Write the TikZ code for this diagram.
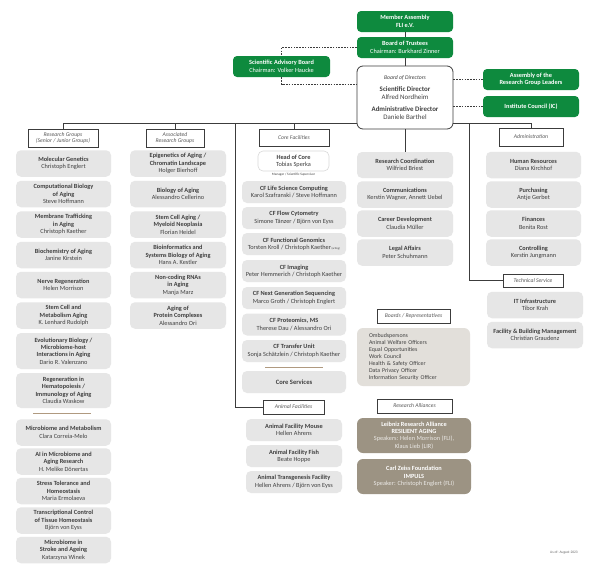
\documentclass[tikz,border=0pt]{standalone}
\usepackage{fontspec}
\setmainfont{Carlito}
\usetikzlibrary{positioning}

\definecolor{fligreen}{HTML}{0E8A3E}
\definecolor{boxgray}{HTML}{E6E6E6}
\definecolor{linegray}{HTML}{3C3C3C}
\definecolor{brdfill}{HTML}{E2DFDA}
\definecolor{allfill}{HTML}{9C9383}
\definecolor{sepbrown}{HTML}{B09A80}

\tikzset{
  base/.style={inner sep=1pt, align=center, font=\fontsize{6.3}{7.4}\selectfont, text=black!75},
  grp/.style={base, fill=boxgray, rounded corners=5pt},
  grn/.style={base, fill=fligreen, text=white, rounded corners=4pt, minimum width=96pt, minimum height=21pt},
  hdr/.style={base, draw=linegray, line width=0.8pt, fill=white, font=\fontsize{5.7}{6.8}\selectfont\itshape, text=black!65},
  rgbox/.style={grp, minimum width=95pt, minimum height=26.5pt},
  cfbox/.style={grp, minimum width=104pt, minimum height=22pt},
  ln/.style={draw=linegray, line width=0.7pt},
  dsh/.style={draw=linegray, line width=0.7pt, dash pattern=on 1.6pt off 1.2pt},
  sepline/.style={draw=sepbrown, line width=0.8pt},
  ally/.style={base, fill=allfill, text=white, rounded corners=6pt, minimum width=114pt, minimum height=35pt}
}

\begin{document}
\begin{tikzpicture}[x=1pt,y=-1pt]
\useasboundingbox[fill=white] (0,0) rectangle (600,570);

% top of the institute
\node[grn] (ma) at (405,21.5) {\textbf{Member Assembly}\\\textbf{FLI e.V.}};
\node[grn] (bot) at (405,47.5) {\textbf{Board of Trustees}\\ Chairman: Burkhard Zinner};
\node[grn, minimum width=97pt] (sab) at (281.5,66.5) {\textbf{Scientific Advisory Board}\\ Chairman: Volker Haucke};
\node[base, draw=linegray, line width=0.8pt, fill=white, rounded corners=6pt, minimum width=96pt, minimum height=63pt,
      font=\fontsize{6.9}{8.4}\selectfont] (bod) at (405,97.5)
  {{\fontsize{5.7}{6.5}\selectfont\itshape Board of Directors}\\[3.5pt]
   \textbf{Scientific Director}\\ Alfred Nordheim\\[3.5pt]
   \textbf{Administrative Director}\\ Daniele Barthel};
\node[grn] (argl) at (531,79.5) {\textbf{Assembly of the}\\\textbf{Research Group Leaders}};
\node[grn] (ic) at (531,106.5) {\textbf{Institute Council (IC)}};

\draw[ln] (ma) -- (bot);
\draw[ln] (bot) -- (bod);
\draw[dsh] (bot.west) -| (sab.north);
\draw[dsh] (sab.south) |- (bod.west |- 0,84);
\draw[dsh] (bod.east |- argl.west) -- (argl.west);
\draw[dsh] (bod.east |- ic.west) -- (ic.west);

% headers
\node[hdr, minimum width=70pt, minimum height=18pt] (rghd) at (63,138) {Research Groups\\(Senior / Junior Groups)};
\node[hdr, minimum width=58pt, minimum height=18pt] (arghd) at (175,138) {Associated\\Research Groups};
\node[hdr, minimum width=70pt, minimum height=17pt] (cfhd) at (294,137.5) {Core Facilities};
\node[hdr, minimum width=64pt, minimum height=18pt] (admhd) at (531,137) {Administration};
\node[hdr, minimum width=61pt, minimum height=14pt] (afhd) at (293.5,407) {Animal Facilities};
\node[hdr, minimum width=60pt, minimum height=13pt] (tshd) at (533,280.5) {Technical Service};
\node[hdr, minimum width=73pt, minimum height=14pt] (brdhd) at (413.5,316) {Boards / Representatives};
\node[hdr, minimum width=75pt, minimum height=14pt] (rahd) at (414.5,406) {Research Alliances};

\coordinate (busl) at (235,123);
\coordinate (busr) at (469,123);
\draw[ln] (rghd.north) |- (bod.west |- busl);
\draw[ln] (bod.east |- busr) -| (admhd.north);
\draw[ln] (arghd.north) -- (arghd.north |- busl);
\draw[ln] (cfhd.north) -- (cfhd.north |- busl);
\draw[ln] (busl) |- (afhd.west);
\draw[ln] (busr) |- (tshd.west);

% research groups
\node[rgbox] (mg) at (63.5,163.5) {\textbf{Molecular Genetics}\\ Christoph Englert};
\node[rgbox] (cb) at (63.5,194) {\textbf{Computational Biology}\\\textbf{of Aging}\\ Steve Hoffmann};
\node[rgbox] (mt) at (63.5,224.5) {\textbf{Membrane Trafficking}\\\textbf{in Aging}\\ Christoph Kaether};
\node[rgbox] (ba) at (63.5,255) {\textbf{Biochemistry of Aging}\\ Janine Kirstein};
\node[rgbox] (nr) at (63.5,285) {\textbf{Nerve Regeneration}\\ Helen Morrison};
\node[rgbox] (sc) at (63.5,315.5) {\textbf{Stem Cell and}\\\textbf{Metabolism Aging}\\ K. Lenhard Rudolph};
\node[rgbox, minimum height=36pt] (eb) at (63.5,351) {\textbf{Evolutionary Biology /}\\\textbf{Microbiome-host}\\\textbf{Interactions in Aging}\\ Dario R. Valenzano};
\node[rgbox, minimum height=35pt] (rh) at (63.5,390.5) {\textbf{Regeneration in}\\\textbf{Hematopoiesis /}\\\textbf{Immunology of Aging}\\ Claudia Waskow};
\draw[sepline] (33,413) -- (91,413);
\node[rgbox] (mm) at (63.5,432.5) {\textbf{Microbiome and Metabolism}\\ Clara Correia-Melo};
\node[rgbox] (ai) at (63.5,461.5) {\textbf{AI in Microbiome and}\\\textbf{Aging Research}\\ H. Melike Dönertas};
\node[rgbox] (stt) at (63.5,491) {\textbf{Stress Tolerance and}\\\textbf{Homeostasis}\\ Maria Ermolaeva};
\node[rgbox] (tc) at (63.5,520.5) {\textbf{Transcriptional Control}\\\textbf{of Tissue Homeostasis}\\ Björn von Eyss};
\node[rgbox] (ms) at (63.5,550) {\textbf{Microbiome in}\\\textbf{Stroke and Ageing}\\ Katarzyna Winek};

% associated research groups
\node[rgbox, minimum width=96pt] (ep) at (178,163.5) {\textbf{Epigenetics of Aging /}\\\textbf{Chromatin Landscape}\\ Holger Bierhoff};
\node[rgbox, minimum width=96pt] (bi) at (178,194) {\textbf{Biology of Aging}\\ Alessandro Cellerino};
\node[rgbox, minimum width=96pt] (sca) at (178,224.5) {\textbf{Stem Cell Aging /}\\\textbf{Myeloid Neoplasia}\\ Florian Heidel};
\node[rgbox, minimum width=96pt] (bs) at (178,255) {\textbf{Bioinformatics and}\\\textbf{Systems Biology of Aging}\\ Hans A. Kestler};
\node[rgbox, minimum width=96pt] (nc) at (178,285) {\textbf{Non-coding RNAs}\\\textbf{in Aging}\\ Manja Marz};
\node[rgbox, minimum width=96pt] (pc) at (178,315.5) {\textbf{Aging of}\\\textbf{Protein Complexes}\\ Alessandro Ori};

% core facilities
\node[base, fill=white, draw=black!15, line width=0.6pt, rounded corners=5pt, minimum width=71pt, minimum height=20pt] (hoc) at (293.5,161) {\textbf{Head of Core}\\ Tobias Sperka};
\node[base, font=\fontsize{3.4}{4}\selectfont, below=0.3pt of hoc] (hocsub) {Manager / Scientific Supervisor};
\node[cfbox] (lsc) at (294,192) {\textbf{CF Life Science Computing}\\ Karol Szafranski / Steve Hoffmann};
\node[cfbox] (fc) at (294,218) {\textbf{CF Flow Cytometry}\\ Simone Tänzer / Björn von Eyss};
\node[cfbox] (fg) at (294,244) {\textbf{CF Functional Genomics}\\ Torsten Kroll / Christoph Kaether{\fontsize{2.8}{3}\selectfont\,(acting)}};
\node[cfbox] (im) at (294,271) {\textbf{CF Imaging}\\ Peter Hemmerich / Christoph Kaether};
\node[cfbox] (ngs) at (294,298) {\textbf{CF Next Generation Sequencing}\\ Marco Groth / Christoph Englert};
\node[cfbox] (pr) at (294,324.5) {\textbf{CF Proteomics, MS}\\ Therese Dau / Alessandro Ori};
\node[cfbox] (tu) at (294,351) {\textbf{CF Transfer Unit}\\ Sonja Schätzlein / Christoph Kaether};
\draw[sepline] (265,367) -- (323,367);
\node[cfbox, font=\fontsize{6.6}{7.4}\selectfont] (cs) at (294,382) {\textbf{Core Services}};

% animal facilities
\node[cfbox, minimum width=96pt] (afm) at (294,430) {\textbf{Animal Facility Mouse}\\ Hellen Ahrens};
\node[cfbox, minimum width=96pt] (aff) at (294,456) {\textbf{Animal Facility Fish}\\ Beate Hoppe};
\node[cfbox, minimum width=96pt] (atf) at (294,482) {\textbf{Animal Transgenesis Facility}\\ Hellen Ahrens / Björn von Eyss};

% staff units
\node[rgbox, minimum width=96pt, minimum height=26pt] (rc) at (405,165) {\textbf{Research Coordination}\\ Wilfried Briest};
\node[rgbox, minimum width=96pt] (com) at (405,194.5) {\textbf{Communications}\\ Kerstin Wagner, Annett Uebel};
\node[rgbox, minimum width=96pt] (cd) at (405,223.5) {\textbf{Career Development}\\ Claudia Müller};
\node[rgbox, minimum width=96pt] (la) at (405,252.5) {\textbf{Legal Affairs}\\ Peter Schuhmann};
\draw[ln] (bod.south) -- (rc.north);

% boards and alliances
\node[grp, fill=brdfill, align=left, text width=89pt, minimum width=113pt, minimum height=58pt, rounded corners=6pt,
      font=\fontsize{5.9}{7}\selectfont] (brd) at (413.5,357)
  {Ombudspersons\\ Animal Welfare Officers\\ Equal Opportunities\\ Work Council\\ Health \& Safety Officer\\ Data Privacy Officer\\ Information Security Officer};
\node[ally] (lra) at (414,435.5) {\textbf{Leibniz Research Alliance}\\\textbf{RESILIENT AGING}\\{\color{white!80!allfill}Speakers: Helen Morrison (FLI),}\\{\color{white!80!allfill}Klaus Lieb (LIR)}};
\node[ally] (czf) at (414,476.5) {\textbf{Carl Zeiss Foundation}\\\textbf{IMPULS}\\{\color{white!80!allfill}Speaker: Christoph Englert (FLI)}};

% administration
\node[rgbox] (hr) at (533.5,165) {\textbf{Human Resources}\\ Diana Kirchhof};
\node[rgbox] (pu) at (533.5,194.5) {\textbf{Purchasing}\\ Antje Gerbet};
\node[rgbox] (fi) at (533.5,223.5) {\textbf{Finances}\\ Benita Rost};
\node[rgbox] (co) at (533.5,252.5) {\textbf{Controlling}\\ Kerstin Jungmann};
\node[rgbox, minimum width=96pt] (it) at (535,305) {\textbf{IT Infrastructure}\\ Tibor Krah};
\node[rgbox, minimum width=96pt] (fb) at (535,335) {\textbf{Facility \& Building Management}\\ Christian Graudenz};

\node[base, font=\fontsize{3.6}{4}\selectfont, text=black!60] (asof) at (564,553) {As of: August 2023};
\end{tikzpicture}
\end{document}
